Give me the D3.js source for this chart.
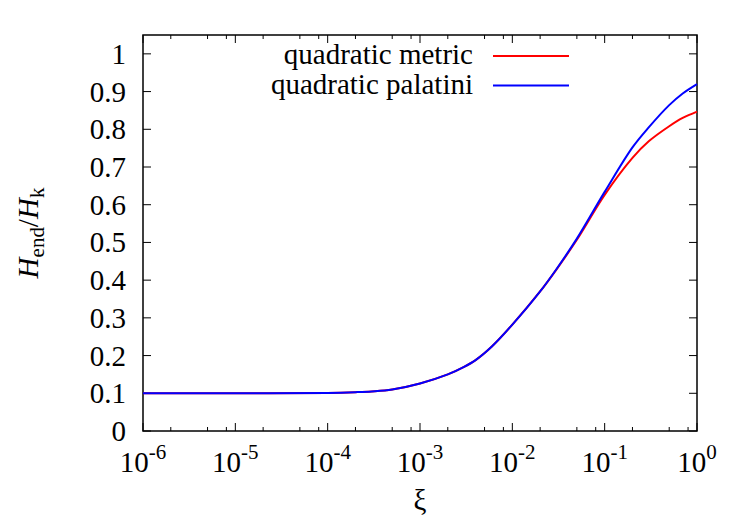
<!DOCTYPE html>
<html><head><meta charset="utf-8">
<script src="https://cdn.jsdelivr.net/npm/d3@7"></script>
<style>
html,body{margin:0;padding:0;background:#fff;}
text{font-family:"Liberation Serif";}
</style></head>
<body>
<svg id="chart" width="750" height="525"></svg>
<script>
// ---- data ----
const xi = [1e-6, 1e-5, 1e-4, 2e-4, 3e-4, 5e-4, 1e-3, 2e-3, 3e-3, 4e-3, 6e-3, 1e-2, 2e-2, 3e-2, 5e-2, 1e-1, 2e-1, 3e-1, 5e-1, 7e-1, 1];
const metric = [0.100, 0.100, 0.101, 0.103, 0.105, 0.110, 0.126, 0.150, 0.170, 0.188, 0.224, 0.282, 0.370, 0.428, 0.507, 0.626, 0.724, 0.768, 0.808, 0.830, 0.847];
const palatini = [0.100, 0.100, 0.101, 0.103, 0.105, 0.110, 0.126, 0.150, 0.170, 0.188, 0.224, 0.282, 0.370, 0.429, 0.510, 0.634, 0.752, 0.805, 0.864, 0.895, 0.920];
const seriesNames = ["quadratic metric", "quadratic palatini"];
const seriesColors = ["#ff0000", "#0000ff"];
const xTickExps = [-6, -5, -4, -3, -2, -1, 0];
const xMinorMult = [2, 5, 8];
const yTicks = [0, 0.1, 0.2, 0.3, 0.4, 0.5, 0.6, 0.7, 0.8, 0.9, 1];
const yTickLabels = ["0", "0.1", "0.2", "0.3", "0.4", "0.5", "0.6", "0.7", "0.8", "0.9", "1"];

// ---- layout ----
const L = 143, R = 697, T = 35, B = 431;
const FS = 29, FSsub = 21;
const svg = d3.select("#chart");
const x = d3.scaleLog().domain([1e-6, 1]).range([L, R]);
const y = d3.scaleLinear().domain([0, 1.05]).range([B, T]);

const g = svg.append("g");
const majorLen = 8, minorLen = 4;

// x ticks (bottom and top)
xTickExps.forEach(e => {
  const v = Math.pow(10, e), px = x(v);
  g.append("line").attr("x1", px).attr("x2", px).attr("y1", B).attr("y2", B - majorLen).attr("stroke", "#000").attr("stroke-width", 1);
  g.append("line").attr("x1", px).attr("x2", px).attr("y1", T).attr("y2", T + majorLen).attr("stroke", "#000").attr("stroke-width", 1);
  if (e < 0) {
    xMinorMult.forEach(m => {
      const pm = x(v * m);
      g.append("line").attr("x1", pm).attr("x2", pm).attr("y1", B).attr("y2", B - minorLen).attr("stroke", "#000").attr("stroke-width", 1);
      g.append("line").attr("x1", pm).attr("x2", pm).attr("y1", T).attr("y2", T + minorLen).attr("stroke", "#000").attr("stroke-width", 1);
    });
  }
  const t = g.append("text").attr("x", px).attr("y", 472).attr("text-anchor", "middle").attr("font-size", FS);
  t.append("tspan").text("10");
  t.append("tspan").attr("font-size", FSsub).attr("dy", -13).text(String(e));
});

// y ticks (left and right)
yTicks.forEach((v, i) => {
  const py = y(v);
  g.append("line").attr("x1", L).attr("x2", L + majorLen).attr("y1", py).attr("y2", py).attr("stroke", "#000").attr("stroke-width", 1);
  g.append("line").attr("x1", R).attr("x2", R - majorLen).attr("y1", py).attr("y2", py).attr("stroke", "#000").attr("stroke-width", 1);
  g.append("text").attr("x", 126).attr("y", py + 10).attr("text-anchor", "end").attr("font-size", FS).text(yTickLabels[i]);
});

// frame
g.append("rect").attr("x", L).attr("y", T).attr("width", R - L).attr("height", B - T)
  .attr("fill", "none").attr("stroke", "#000").attr("stroke-width", 1.5);

// curves
const line = d3.line().x(d => x(d[0])).y(d => y(d[1])).curve(d3.curveCatmullRom.alpha(0.5));
[metric, palatini].forEach((vals, k) => {
  g.append("path").datum(xi.map((v, i) => [v, vals[i]]))
    .attr("d", line).attr("fill", "none").attr("stroke", seriesColors[k]).attr("stroke-width", 2);
});

// legend
seriesNames.forEach((name, k) => {
  const ly = 56 + k * 29.5;
  g.append("text").attr("x", 473).attr("y", ly + 8).attr("text-anchor", "end").attr("font-size", FS).text(name);
  g.append("line").attr("x1", 493).attr("x2", 569).attr("y1", ly).attr("y2", ly).attr("stroke", seriesColors[k]).attr("stroke-width", 2);
});

// axis labels
g.append("text").attr("x", (L + R) / 2).attr("y", 510).attr("text-anchor", "middle").attr("font-size", FS).text("ξ");
const yl = g.append("text").attr("transform", `translate(38,${(T + B) / 2}) rotate(-90)`).attr("text-anchor", "middle").attr("font-size", FS);
yl.append("tspan").attr("font-style", "italic").text("H");
yl.append("tspan").attr("font-size", FSsub).attr("dy", 6).text("end");
yl.append("tspan").attr("dy", -6).text("/");
yl.append("tspan").attr("font-style", "italic").text("H");
yl.append("tspan").attr("font-size", FSsub).attr("dy", 6).text("k");
</script>
</body></html>
